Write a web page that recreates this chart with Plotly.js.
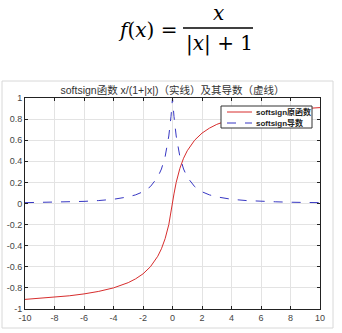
<!DOCTYPE html>
<html>
<head>
<meta charset="utf-8">
<script src="https://cdn.plot.ly/plotly-3.0.1.min.js"></script>
<style>
html,body{margin:0;padding:0;background:#fff;}
#chart{width:342px;height:333px;}
</style>
</head>
<body>
<div id="chart"></div>
<script>
// Values
const xValues = [-10,-9,-8,-7,-6,-5,-4,-3,-2.5,-2,-1.5,-1,-0.75,-0.5,-0.25,-0.1,0,0.1,0.25,0.5,0.75,1,1.5,2,2.5,3,4,5,6,7,8,9,10];
const softsignValues = [-0.909,-0.9,-0.889,-0.875,-0.857,-0.833,-0.8,-0.75,-0.714,-0.667,-0.6,-0.5,-0.429,-0.333,-0.2,-0.091,0,0.091,0.2,0.333,0.429,0.5,0.6,0.667,0.714,0.75,0.8,0.833,0.857,0.875,0.889,0.9,0.909];
const derivativeValues = [0.008,0.01,0.012,0.016,0.02,0.028,0.04,0.063,0.082,0.111,0.16,0.25,0.327,0.444,0.64,0.826,1,0.826,0.64,0.444,0.327,0.25,0.16,0.111,0.082,0.063,0.04,0.028,0.02,0.016,0.012,0.01,0.008];
const seriesNames = ['softsign原函数','softsign导数'];
const chartTitle = 'softsign函数 x/(1+|x|)（实线）及其导数（虚线）';
const xTickVals = [-10,-8,-6,-4,-2,0,2,4,6,8,10];
const xTickText = ['-10','-8','-6','-4','-2','0','2','4','6','8','10'];
const yTickVals = [-1,-0.8,-0.6,-0.4,-0.2,0,0.2,0.4,0.6,0.8,1];
const yTickText = ['-1','-0.8','-0.6','-0.4','-0.2','0','0.2','0.4','0.6','0.8','1'];

const W = 342, H = 333;
const M = {l:25, r:22, t:98, b:24};
const pw = W - M.l - M.r, ph = H - M.t - M.b;
const px = x => (x - M.l) / pw;          // pixel -> paper x
const py = y => (H - M.b - y) / ph;      // pixel -> paper y

const font = 'Liberation Sans, Arial, Noto Sans CJK SC, sans-serif';
const serif = 'DejaVu Serif, Liberation Serif, serif';
const colors = ['rgb(215,45,45)', 'rgb(55,55,195)'];
const dashes = ['solid', 'dash'];

const traces = [
  {x:xValues, y:softsignValues, type:'scatter', mode:'lines', name:seriesNames[0],
   line:{color:colors[0], width:1, dash:dashes[0]}},
  {x:xValues, y:derivativeValues, type:'scatter', mode:'lines', name:seriesNames[1],
   line:{color:colors[1], width:1, dash:dashes[1]}}
];

const axisCommon = {
  showline:true, mirror:'ticks', linecolor:'#222', linewidth:1,
  ticks:'inside', ticklen:3, tickcolor:'#222',
  showgrid:true, gridcolor:'#e3e3e3', gridwidth:1, zeroline:false,
  tickfont:{family:font, size:9, color:'#444'}, tickmode:'array'
};

// compact legend box (drawn as shapes + real text)
const legendBox = {x0:221, x1:312, y0:106, y1:128};
const legendRows = [112, 123];
const legendShapes = [
  {type:'rect', xref:'paper', yref:'paper', x0:px(legendBox.x0), x1:px(legendBox.x1),
   y0:py(legendBox.y1), y1:py(legendBox.y0), line:{color:'#333', width:1}, fillcolor:'#fff'}
];
const legendAnn = [];
seriesNames.forEach((name, i) => {
  legendShapes.push({type:'line', xref:'paper', yref:'paper', x0:px(227), x1:px(252),
    y0:py(legendRows[i]), y1:py(legendRows[i]), line:{color:colors[i], width:1, dash:dashes[i]}});
  legendAnn.push({xref:'paper', yref:'paper', x:px(254), y:py(legendRows[i]), xanchor:'left', yanchor:'middle',
    text:name, showarrow:false, font:{family:font, size:8, color:'#222', weight:'bold'}});
});

const layout = {
  width:W, height:H, margin:M,
  paper_bgcolor:'#fff', plot_bgcolor:'#fff',
  showlegend:false,
  title:{text:chartTitle, font:{family:font, size:10.5, color:'#333'},
         x:0.5, xref:'paper', xanchor:'center', y:1-90/H, yanchor:'middle', yref:'container'},
  xaxis:Object.assign({}, axisCommon, {range:[-10,10], tickvals:xTickVals, ticktext:xTickText}),
  yaxis:Object.assign({}, axisCommon, {range:[-1,1], tickvals:yTickVals, ticktext:yTickText}),
  shapes:[
    {type:'rect', xref:'paper', yref:'paper', x0:px(2), x1:px(333), y0:py(328), y1:py(81),
     line:{color:'#d8d8d8', width:1}, fillcolor:'rgba(0,0,0,0)', layer:'below'},
    {type:'line', xref:'paper', yref:'paper', x0:px(183), x1:px(253), y0:py(28), y1:py(28),
     line:{color:'#000', width:1.6}}
  ].concat(legendShapes),
  annotations:[
    {xref:'paper', yref:'paper', x:px(179), y:py(30), xanchor:'right', yanchor:'middle',
     text:'<i>f</i>(<i>x</i>) =', showarrow:false, font:{family:serif, size:20, color:'#000'}},
    {xref:'paper', yref:'paper', x:px(218), y:py(13), xanchor:'center', yanchor:'middle',
     text:'<i>x</i>', showarrow:false, font:{family:serif, size:20, color:'#000'}},
    {xref:'paper', yref:'paper', x:px(219), y:py(43), xanchor:'center', yanchor:'middle',
     text:'|<i>x</i>| + 1', showarrow:false, font:{family:serif, size:20, color:'#000'}}
  ].concat(legendAnn)
};

Plotly.newPlot('chart', traces, layout, {displayModeBar:false, staticPlot:true});
</script>
</body>
</html>
